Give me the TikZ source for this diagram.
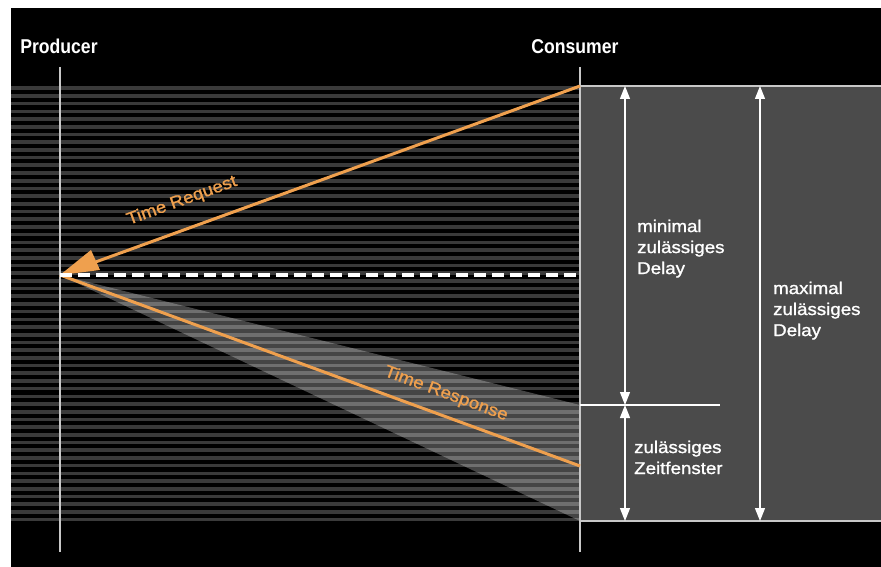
\documentclass[tikz,border=0pt]{standalone}
\usepackage{fontspec}
\setmainfont{Liberation Sans}
\newfontfamily\lblfont[FakeStretch=1.1,FakeBold=1.3]{Liberation Sans}
\newfontfamily\ttlfont[FakeStretch=0.88]{Liberation Sans}
\usetikzlibrary{arrows.meta}
\definecolor{orng}{HTML}{EFA04E}
\definecolor{stripegray}{HTML}{3A3A3A}
\definecolor{panel}{HTML}{4B4B4B}
\definecolor{lightln}{HTML}{C8C8C8}
\begin{document}
\begin{tikzpicture}[x=1pt,y=-1pt,
  vline/.style={draw=lightln, line width=1.5pt},
  dimarrow/.style={draw=white, line width=1.3pt, {Triangle[length=13pt,width=10pt,fill=white]}-{Triangle[length=13pt,width=10pt,fill=white]}},
  lbl/.style={text=white, font=\lblfont\fontsize{17}{21}\selectfont, align=left, inner sep=0pt, anchor=north west},
  ttl/.style={text=white, font=\ttlfont\bfseries\fontsize{20}{24}\selectfont, inner sep=0pt, anchor=base},
  olbl/.style={text=orng, font=\lblfont\fontsize{17}{21}\selectfont, inner sep=0pt},
  oline/.style={draw=orng, line width=3pt}
]
\useasboundingbox (0,0) rectangle (881,567);
\fill[white] (0,0) rectangle (881,567);
\fill[black] (11,8) rectangle (881,567);
% stripes
\foreach \i in {0,...,56}{
  \fill[stripegray] (11,{86.5+\i*7.7}) rectangle (580,{86.5+\i*7.7+3.6});
}
% coordinates
\coordinate (P) at (60,275);
\coordinate (CT) at (580,86);
\coordinate (CR) at (580,466);
\coordinate (CD) at (580,275);
\coordinate (CW1) at (580,405);
\coordinate (CW2) at (580,521);
\coordinate (Hend) at (720,405);
\coordinate (AHu) at (91,250);
\coordinate (AHl) at (100,270);
\coordinate (AHb) at (94,262.6);
\coordinate (A1t) at (625,86);
\coordinate (A1b) at (625,405);
\coordinate (A2b) at (625,521);
\coordinate (A3t) at (760,86);
\coordinate (A3b) at (760,521);
% cone
\fill[white, opacity=0.27] (P) -- (CW1) -- (CW2) -- cycle;
% panel
\fill[panel] (580,86) rectangle (881,521);
\draw[lightln, line width=1.8pt] (580,86) -- (881,86);
\draw[lightln, line width=1.8pt] (580,521) -- (881,521);
% vertical lines
\draw[vline] (60,67) -- (60,552);
\draw[vline] (580,67) -- (580,552);
% titles
\node[ttl] (prod) at (59,54) {Producer};
\node[ttl] (cons) at (575,54) {Consumer};
% orange lines
\draw[oline] (CT) -- (AHb);
\fill[orng] (P) -- (AHu) -- (AHl) -- cycle;
\draw[oline] (P) -- (CR);
\draw[white, line width=3.5pt, dash pattern=on 12pt off 6pt] (P) -- (CD);
% labels on lines
\node[olbl, rotate=20] (treq) at (182,201) {Time Request};
\node[olbl, rotate=-20.2] (tres) at (446,394) {Time Response};
% dimension lines
\draw[white, line width=1.4pt] (CW1) -- (Hend);
\draw[dimarrow] (A1t) -- (A1b);
\draw[dimarrow] (A1b) -- (A2b);
\draw[dimarrow] (A3t) -- (A3b);
% texts
\node[lbl] (tmin) at (637,219.5) {minimal\\zulässiges\\Delay};
\node[lbl] (tmax) at (773,281.5) {maximal\\zulässiges\\Delay};
\node[lbl] (twin) at (634,440.5) {zulässiges\\Zeitfenster};
\end{tikzpicture}
\end{document}
